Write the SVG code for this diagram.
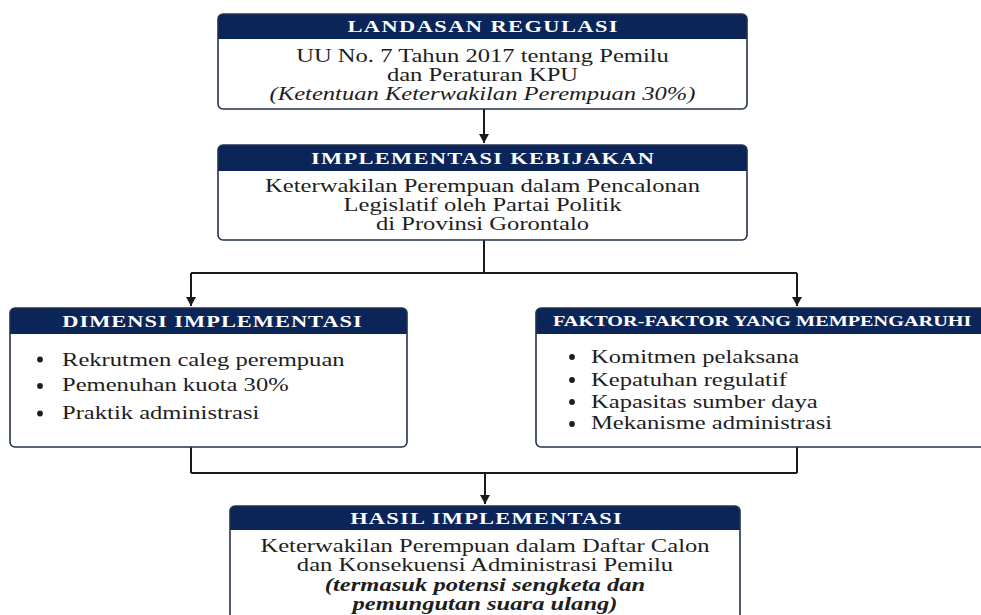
<svg xmlns="http://www.w3.org/2000/svg" width="981" height="615" viewBox="0 0 981 615">
<defs>
<style>
.box{fill:#ffffff;stroke:none}
.frame{fill:none;stroke:#25314d;stroke-width:1.6}
.hd{fill:#0b2559}
.hdr{font-family:"Liberation Serif","Times New Roman",serif;font-weight:bold;font-size:16px;fill:#ffffff;text-anchor:middle}
.txt{font-family:"Liberation Serif","Times New Roman",serif;font-size:18.5px;fill:#1e1e1e;text-anchor:middle}
.lst{font-family:"Liberation Serif","Times New Roman",serif;font-size:18.5px;fill:#1e1e1e}
.it{font-style:italic}
.bi{font-style:italic;font-weight:bold}
.dot{fill:#1e1e1e}
.con{fill:none;stroke:#1a1a1a;stroke-width:2}
</style>
<marker id="ah" markerUnits="userSpaceOnUse" markerWidth="12" markerHeight="12" refX="9" refY="5" orient="auto">
<path d="M0,0 L9,5 L0,10 Z" fill="#1a1a1a"/>
</marker>
</defs>
<rect x="0" y="0" width="981" height="615" fill="#ffffff"/>

<g id="connectors">
<path class="con" d="M484,109 V143" marker-end="url(#ah)"/>
<path class="con" d="M484,240 V273 M191,273 H797"/>
<path class="con" d="M191,273 V306" marker-end="url(#ah)"/>
<path class="con" d="M797,273 V306" marker-end="url(#ah)"/>
<path class="con" d="M191,447 V473 M797,447 V473 M191,473 H797"/>
<path class="con" d="M485,473 V504" marker-end="url(#ah)"/>
</g>

<g id="landasan-regulasi">
<rect class="box" x="218" y="14" width="529" height="95" rx="5"/>
<path class="hd" d="M218,39 V19 Q218,14 223,14 H742 Q747,14 747,19 V39 Z"/>
<rect class="frame" x="218" y="14" width="529" height="95" rx="5"/>
<text class="hdr" transform="translate(482.5,32) scale(1.4,1)" textLength="193" lengthAdjust="spacing">LANDASAN REGULASI</text>
<text class="txt" transform="translate(482.5,61.5) scale(1.33,1)">UU No. 7 Tahun 2017 tentang Pemilu</text>
<text class="txt" transform="translate(482.5,80.5) scale(1.33,1)">dan Peraturan KPU</text>
<text class="txt it" transform="translate(482.5,99.5) scale(1.33,1)">(Ketentuan Keterwakilan Perempuan 30%)</text>
</g>

<g id="implementasi-kebijakan">
<rect class="box" x="218" y="145" width="529" height="95" rx="5"/>
<path class="hd" d="M218,171 V150 Q218,145 223,145 H742 Q747,145 747,150 V171 Z"/>
<rect class="frame" x="218" y="145" width="529" height="95" rx="5"/>
<text class="hdr" transform="translate(482.5,163.5) scale(1.4,1)" textLength="245" lengthAdjust="spacing">IMPLEMENTASI KEBIJAKAN</text>
<text class="txt" transform="translate(482.5,192) scale(1.33,1)">Keterwakilan Perempuan dalam Pencalonan</text>
<text class="txt" transform="translate(482.5,211) scale(1.33,1)">Legislatif oleh Partai Politik</text>
<text class="txt" transform="translate(482.5,230) scale(1.33,1)">di Provinsi Gorontalo</text>
</g>

<g id="dimensi-implementasi">
<rect class="box" x="10" y="308" width="397" height="139" rx="5"/>
<path class="hd" d="M10,334 V313 Q10,308 15,308 H402 Q407,308 407,313 V334 Z"/>
<rect class="frame" x="10" y="308" width="397" height="139" rx="5"/>
<text class="hdr" transform="translate(212,326.5) scale(1.4,1)" textLength="214" lengthAdjust="spacing">DIMENSI IMPLEMENTASI</text>
<circle class="dot" cx="40" cy="359.5" r="2.9"/>
<circle class="dot" cx="40" cy="386" r="2.9"/>
<circle class="dot" cx="40" cy="413.5" r="2.9"/>
<text class="lst" transform="translate(62,365.5) scale(1.33,1)">Rekrutmen caleg perempuan</text>
<text class="lst" transform="translate(62,391) scale(1.33,1)">Pemenuhan kuota 30%</text>
<text class="lst" transform="translate(62,418.5) scale(1.33,1)">Praktik administrasi</text>
</g>

<g id="faktor-faktor">
<rect class="box" x="536" y="308" width="470" height="139" rx="5"/>
<path class="hd" d="M536,334 V313 Q536,308 541,308 H1001 Q1006,308 1006,313 V334 Z"/>
<rect class="frame" x="536" y="308" width="470" height="139" rx="5"/>
<text class="hdr" style="text-anchor:start;font-size:15px" transform="translate(553,326) scale(1.35,1)">FAKTOR-FAKTOR YANG MEMPENGARUHI</text>
<circle class="dot" cx="572" cy="357" r="2.9"/>
<circle class="dot" cx="572" cy="380" r="2.9"/>
<circle class="dot" cx="572" cy="402" r="2.9"/>
<circle class="dot" cx="572" cy="424" r="2.9"/>
<text class="lst" transform="translate(591,362.5) scale(1.33,1)">Komitmen pelaksana</text>
<text class="lst" transform="translate(591,385.5) scale(1.33,1)">Kepatuhan regulatif</text>
<text class="lst" transform="translate(591,407.5) scale(1.33,1)">Kapasitas sumber daya</text>
<text class="lst" transform="translate(591,429) scale(1.33,1)">Mekanisme administrasi</text>
</g>

<g id="hasil-implementasi">
<rect class="box" x="230" y="506" width="510" height="130" rx="5"/>
<path class="hd" d="M230,530 V511 Q230,506 235,506 H735 Q740,506 740,511 V530 Z"/>
<rect class="frame" x="230" y="506" width="510" height="130" rx="5"/>
<text class="hdr" transform="translate(486,523.5) scale(1.4,1)" textLength="194" lengthAdjust="spacing">HASIL IMPLEMENTASI</text>
<text class="txt" transform="translate(485,552) scale(1.33,1)">Keterwakilan Perempuan dalam Daftar Calon</text>
<text class="txt" transform="translate(485,571) scale(1.33,1)">dan Konsekuensi Administrasi Pemilu</text>
<text class="txt bi" transform="translate(485,591) scale(1.33,1)">(termasuk potensi sengketa dan</text>
<text class="txt bi" transform="translate(485,610) scale(1.33,1)">pemungutan suara ulang)</text>
</g>
</svg>
